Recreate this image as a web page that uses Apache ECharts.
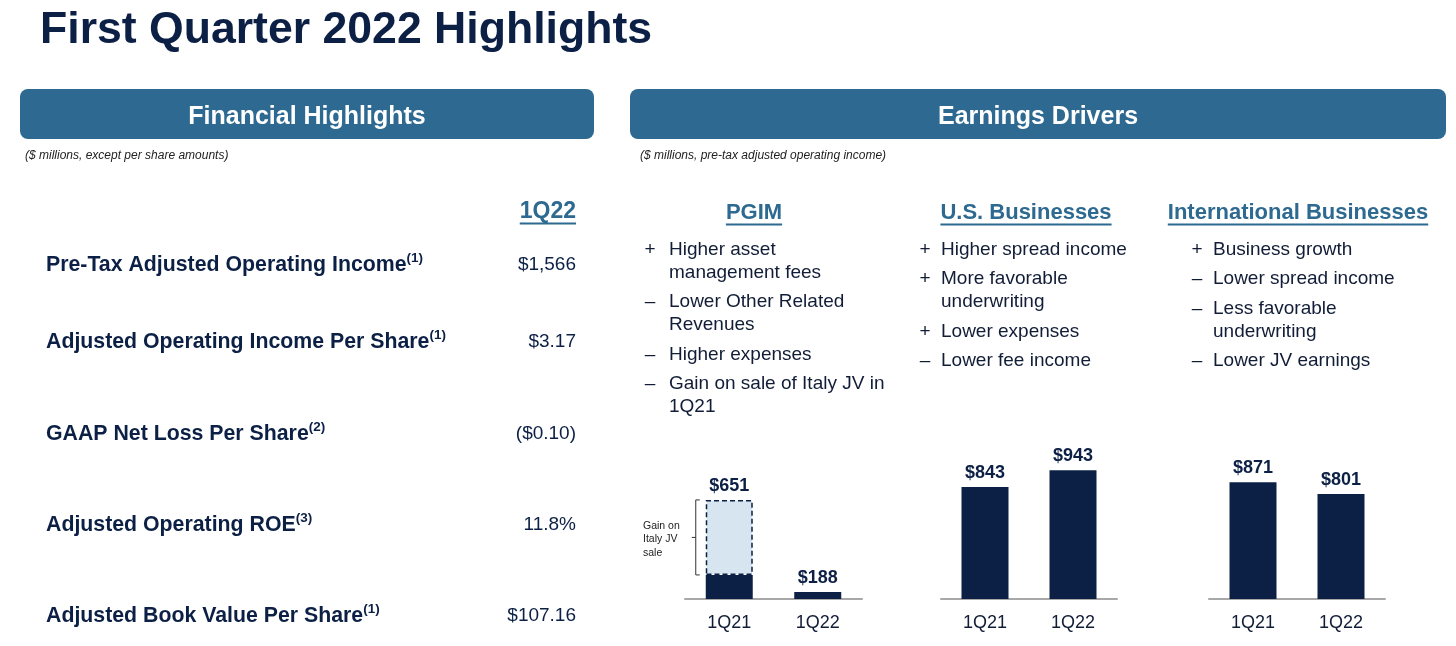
<!DOCTYPE html>
<html>
<head>
<meta charset="utf-8">
<script src="https://cdn.jsdelivr.net/npm/echarts@6/dist/echarts.min.js"></script>
<style>
  html, body { margin: 0; padding: 0; background: #fff; }
  #chart { width: 1456px; height: 646px; }
</style>
</head>
<body>
<div id="chart"></div>
<script>
// data
const quarters = ['1Q21', '1Q22']
const pgimBase = [274, 188]
const pgimGain = [377, null]
const pgimTotal = [651, 188]
const usValues = [843, 943]
const intlValues = [871, 801]

const metricLabels = [
  'Pre-Tax Adjusted Operating Income',
  'Adjusted Operating Income Per Share',
  'GAAP Net Loss Per Share',
  'Adjusted Operating ROE',
  'Adjusted Book Value Per Share'
]
const metricNotes = ['(1)', '(1)', '(2)', '(3)', '(1)']
const metricValues = ['$1,566', '$3.17', '($0.10)', '11.8%', '$107.16']

const segmentNames = ['PGIM', 'U.S. Businesses', 'International Businesses']
const pgimSigns = ['+', '–', '–', '–']
const pgimDrivers = ['Higher asset\nmanagement fees', 'Lower Other Related\nRevenues', 'Higher expenses', 'Gain on sale of Italy JV in\n1Q21']
const usSigns = ['+', '+', '+', '–']
const usDrivers = ['Higher spread income', 'More favorable\nunderwriting', 'Lower expenses', 'Lower fee income']
const intlSigns = ['+', '–', '–', '–']
const intlDrivers = ['Business growth', 'Lower spread income', 'Less favorable\nunderwriting', 'Lower JV earnings']

const FONT = '"Liberation Sans", Arial, sans-serif'
const NAVY = '#0c2045'
const TEXT = '#111c36'
const BLUE = '#2d6990'
const LIGHT = '#d7e5f1'

const measure = document.createElement('canvas').getContext('2d')
function textWidth(str, size, weight) {
  measure.font = (weight || 'normal') + ' ' + size + 'px ' + FONT
  return measure.measureText(str).width
}

const chart = echarts.init(document.getElementById('chart'), null, { renderer: 'canvas' })

function axisX(i) {
  return {
    type: 'category',
    gridIndex: i,
    data: quarters,
    axisTick: { show: false },
    axisLine: { lineStyle: { color: '#a8a8a8', width: 2 } },
    axisLabel: { color: TEXT, fontSize: 18, fontFamily: FONT, margin: 15 }
  }
}
function axisY(i, min, max) {
  return { type: 'value', gridIndex: i, min: min, max: max, show: false, splitLine: { show: false } }
}
const valueLabel = {
  show: true,
  position: 'top',
  distance: 5,
  color: NAVY,
  fontSize: 18,
  fontWeight: 'bold',
  fontFamily: FONT,
  formatter: (p) => '$' + p.value
}

chart.setOption({
  animation: false,
  grid: [
    { left: 685, width: 177, top: 449, height: 150 },
    { left: 941, width: 176, top: 449, height: 150 },
    { left: 1209, width: 176, top: 449, height: 150 }
  ],
  xAxis: [axisX(0), axisX(1), axisX(2)],
  yAxis: [axisY(0, 153, 907), axisY(1, 175, 1070), axisY(2, 175, 1070)],
  series: [
    {
      type: 'bar', xAxisIndex: 0, yAxisIndex: 0, stack: 'pgim', barWidth: 47,
      data: pgimBase.map((v, i) => (i === 0 ? { value: v, label: { show: false } } : v)),
      itemStyle: { color: NAVY },
      label: Object.assign({}, valueLabel, { formatter: (p) => '$' + pgimTotal[p.dataIndex] })
    },
    {
      type: 'bar', xAxisIndex: 0, yAxisIndex: 0, stack: 'pgim', barWidth: 47,
      data: pgimGain,
      itemStyle: { color: LIGHT, borderColor: NAVY, borderWidth: 1.5, borderType: [5, 3] },
      label: Object.assign({}, valueLabel, { formatter: (p) => '$' + pgimTotal[p.dataIndex] })
    },
    {
      type: 'bar', xAxisIndex: 1, yAxisIndex: 1, barWidth: 47,
      data: usValues, itemStyle: { color: NAVY }, label: valueLabel
    },
    {
      type: 'bar', xAxisIndex: 2, yAxisIndex: 2, barWidth: 47,
      data: intlValues, itemStyle: { color: NAVY }, label: valueLabel
    }
  ]
})

const g = []
function text(x, y, str, size, opts) {
  const o = opts || {}
  g.push({
    type: 'text', x: x, y: y, silent: true,
    style: {
      text: str, fill: o.color || TEXT, fontSize: size, fontFamily: FONT,
      fontWeight: o.weight || 'normal', fontStyle: o.style || 'normal',
      align: o.align || 'left', verticalAlign: 'middle', lineHeight: o.lineHeight
    }
  })
}
function underlined(cx, y, str, size, align) {
  const w = textWidth(str, size, 'bold')
  text(cx, y, str, size, { color: BLUE, weight: 'bold', align: align })
  const x0 = align === 'right' ? cx - w : cx - w / 2
  g.push({ type: 'line', silent: true, shape: { x1: x0, y1: y + 11.5, x2: x0 + w, y2: y + 11.5 }, style: { stroke: BLUE, lineWidth: 2 } })
}

// title and header bars
text(40, 31, 'First Quarter 2022 Highlights', 44.6, { color: NAVY, weight: 'bold' })
g.push({ type: 'rect', silent: true, shape: { x: 20, y: 89, width: 574, height: 50, r: 8 }, style: { fill: BLUE } })
g.push({ type: 'rect', silent: true, shape: { x: 630, y: 89, width: 816, height: 50, r: 8 }, style: { fill: BLUE } })
text(307, 117, 'Financial Highlights', 25, { color: '#fff', weight: 'bold', align: 'center' })
text(1038, 117, 'Earnings Drivers', 25, { color: '#fff', weight: 'bold', align: 'center' })
text(25, 156, '($ millions, except per share amounts)', 12, { color: '#222', style: 'italic' })
text(640, 156, '($ millions, pre-tax adjusted operating income)', 12, { color: '#222', style: 'italic' })

// financial highlights table
underlined(576, 212, '1Q22', 23, 'right')
const rowY = [265, 342, 434, 525, 616]
metricLabels.forEach((lab, i) => {
  g.push({
    type: 'text', x: 46, y: rowY[i], silent: true,
    style: {
      text: '{b|' + lab + '}{s|' + metricNotes[i] + '}',
      verticalAlign: 'middle',
      rich: {
        b: { fontSize: 21.3, fontWeight: 'bold', fontFamily: FONT, fill: NAVY, lineHeight: 28 },
        s: { fontSize: 13.5, fontWeight: 'bold', fontFamily: FONT, fill: NAVY, lineHeight: 16, verticalAlign: 'top' }
      }
    }
  })
  text(576, rowY[i], metricValues[i], 19, { color: NAVY, align: 'right' })
})

// earnings drivers
const headX = [754, 1026, 1298]
segmentNames.forEach((n, i) => underlined(headX[i], 213, n, 22, 'center'))
function drivers(signX, textX, signs, items) {
  let y = 249.5
  items.forEach((it, i) => {
    const lines = it.split('\n').length
    text(signX, y, signs[i], 19, { align: 'center' })
    text(textX, y + (lines - 1) * 11.5, it, 19, { lineHeight: 23 })
    y += lines * 23 + 6.5
  })
}
drivers(650, 669, pgimSigns, pgimDrivers)
drivers(925, 941, usSigns, usDrivers)
drivers(1197, 1213, intlSigns, intlDrivers)

// bracket beside the gain segment, placed from the axis scale
const pTop = chart.convertToPixel({ xAxisIndex: 0, yAxisIndex: 0 }, [0, pgimTotal[0]])
const pBase = chart.convertToPixel({ xAxisIndex: 0, yAxisIndex: 0 }, [0, pgimBase[0]])
const bx = pTop[0] - 23.5 - 10
const mid = (pTop[1] + pBase[1]) / 2
g.push({
  type: 'polyline', silent: true,
  shape: { points: [[bx + 4, pTop[1]], [bx, pTop[1]], [bx, pBase[1]], [bx + 4, pBase[1]]] },
  style: { stroke: '#333', lineWidth: 1, fill: null }
})
g.push({ type: 'line', silent: true, shape: { x1: bx - 4, y1: mid, x2: bx, y2: mid }, style: { stroke: '#333', lineWidth: 1 } })
text(643, mid + 2, 'Gain on\nItaly JV\nsale', 10.5, { color: '#222', lineHeight: 13.5 })

chart.setOption({ graphic: g })
</script>
</body>
</html>
